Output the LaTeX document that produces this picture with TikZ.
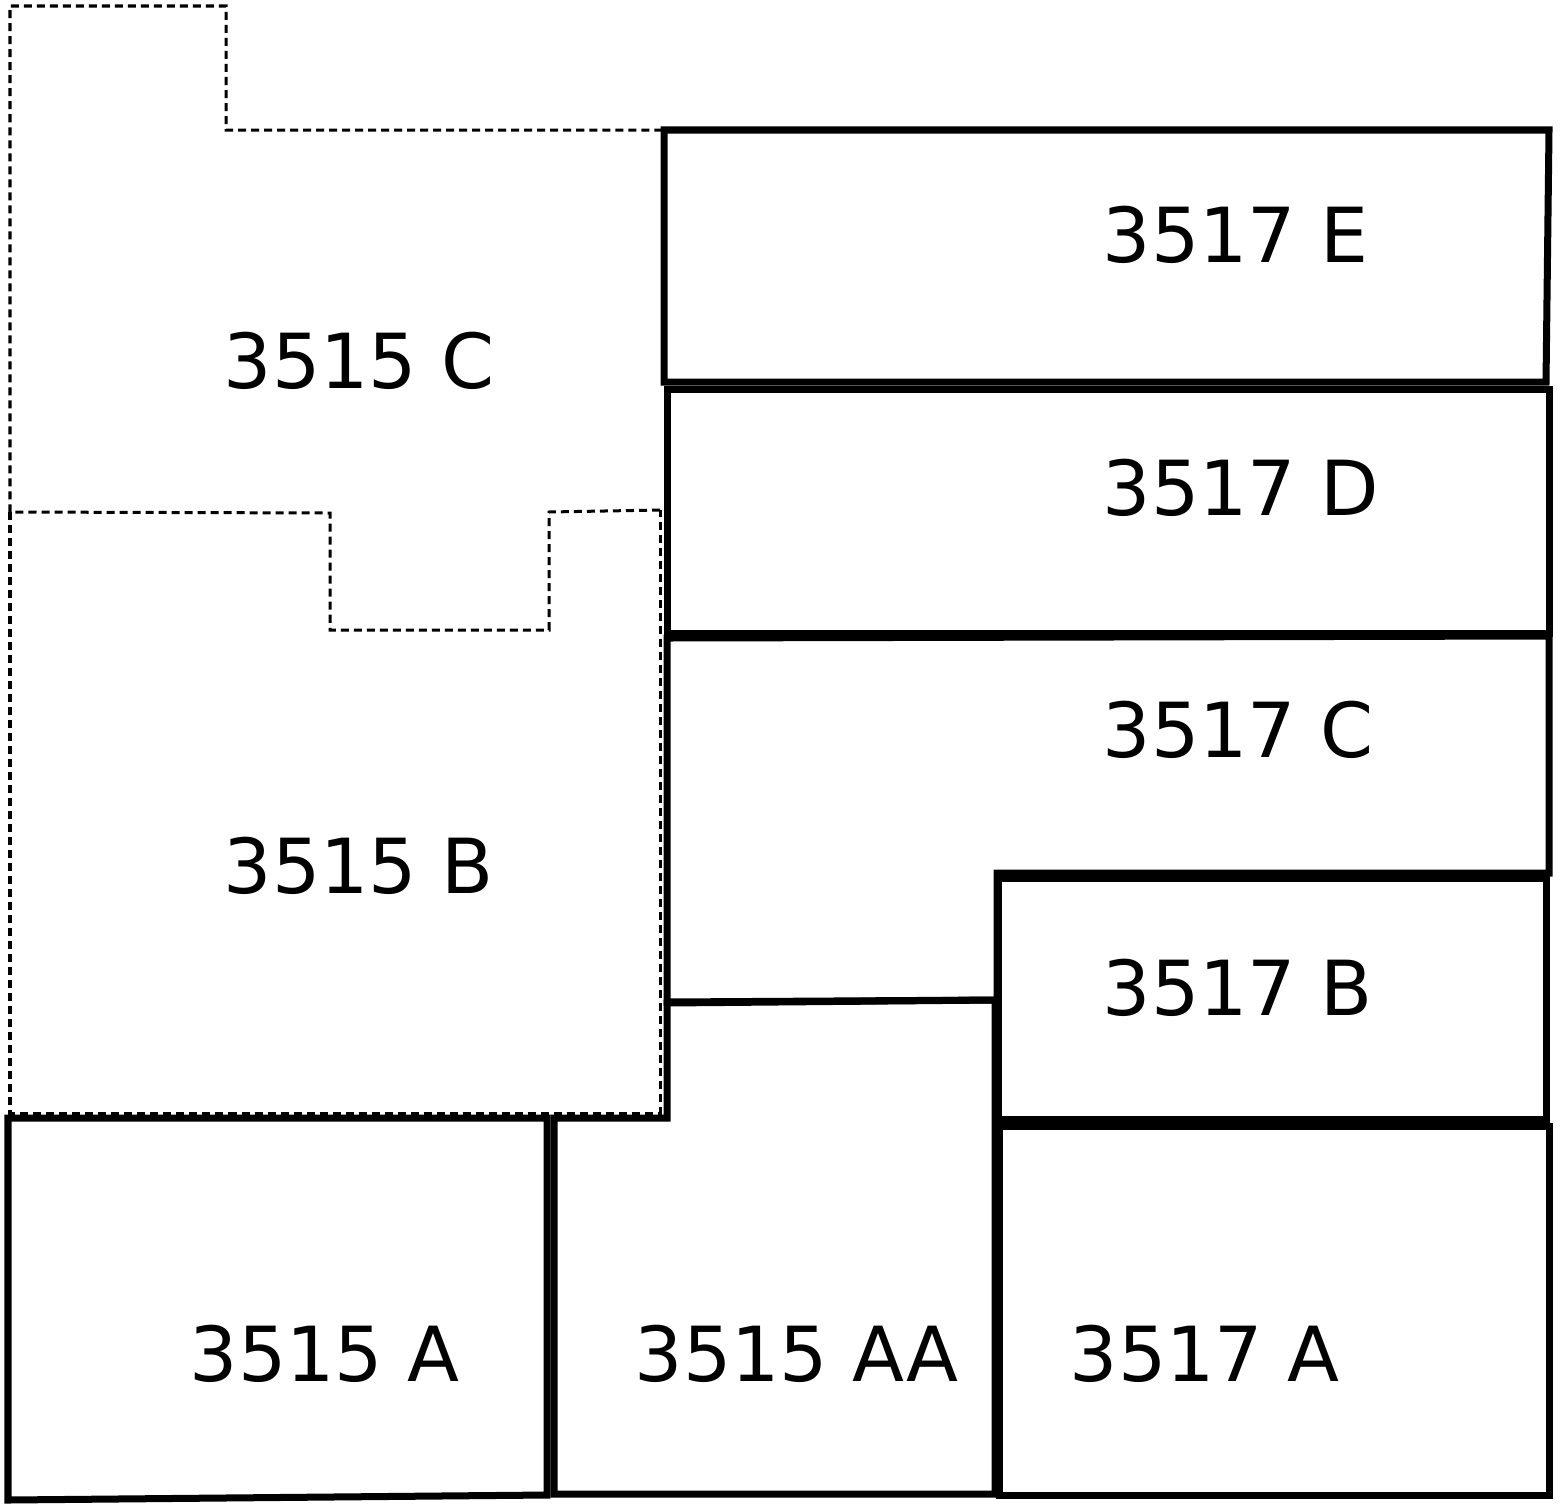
\documentclass[tikz,border=0pt]{standalone}
\usepackage{fontspec}
\setmainfont{DejaVu Sans}
\begin{document}
\begin{tikzpicture}[x=0.01cm,y=-0.01cm,
  wall/.style={line width=0.07cm,line join=miter},
  dashwall/.style={line width=0.03cm,dash pattern=on 0.08cm off 0.05cm},
  lbl/.style={anchor=base west,inner sep=0pt,font=\fontsize{21.6pt}{24pt}\selectfont}]
\useasboundingbox (0,0) rectangle (1564,1509);
% dashed units
\draw[dashwall] (660,510) -- (549,512) -- (549,630) -- (330,630) -- (330,513) -- (10,512) -- (10,6) -- (226,6) -- (226,130) -- (662,130);
\draw[dashwall] (10,512) -- (10,1113) -- (660,1113) -- (660,510);
% solid units
\draw[wall] (664,130) -- (1549,130) -- (1546,382) -- (664,382) -- cycle;
\draw[wall] (667,389) -- (1549,389) -- (1549,633) -- (667,633) -- cycle;
\draw[wall] (667,638) -- (1549,636) -- (1549,873) -- (997,873) -- (997,1000) -- (667,1002) -- cycle;
\draw[wall] (998,878) -- (1546,878) -- (1546,1119) -- (998,1119) -- cycle;
\draw[wall] (999,1126) -- (1549,1126) -- (1549,1495) -- (999,1495) -- cycle;
\draw[wall] (554,1118) -- (667,1118) -- (667,1003) -- (995,1000) -- (995,1494) -- (554,1494) -- cycle;
\draw[wall] (8,1118) -- (547,1118) -- (547,1495) -- (8,1500) -- cycle;
% labels
\node[lbl] (l3515c) at (223,388) {3515 C};
\node[lbl] (l3515b) at (223,893) {3515 B};
\node[lbl] (l3517e) at (1102,262) {3517 E};
\node[lbl] (l3517d) at (1102,515) {3517 D};
\node[lbl] (l3517c) at (1102,757) {3517 C};
\node[lbl] (l3517b) at (1102,1015) {3517 B};
\node[lbl] (l3515a) at (189,1381) {3515 A};
\node[lbl] (l3515aa) at (634,1381) {3515 AA};
\node[lbl] (l3517a) at (1069,1381) {3517 A};
\end{tikzpicture}
\end{document}
